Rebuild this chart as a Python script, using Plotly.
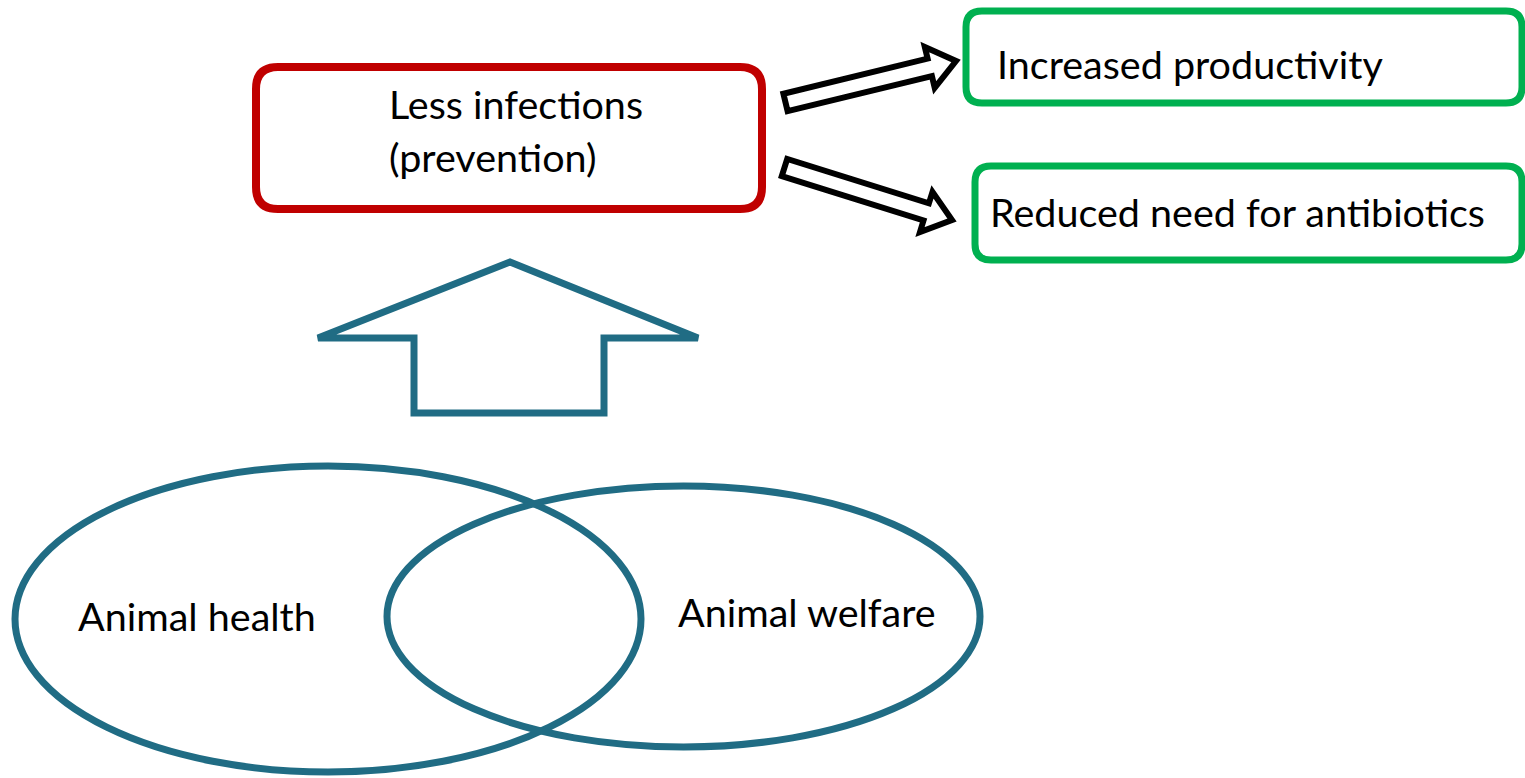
import math
import plotly.graph_objects as go

# ---- content ----
box_labels = ["Less infections", "(prevention)", "Increased productivity", "Reduced need for antibiotics"]
circle_labels = ["Animal health", "Animal welfare"]

W, H = 1525, 778
TEAL = "#206C84"
RED = "#C00000"
GREEN = "#00B050"
FONT = "Lato"
FS = 39.5

fig = go.Figure()
fig.add_trace(go.Scatter(x=[0, W], y=[0, H], mode="markers", marker=dict(opacity=0), hoverinfo="skip", showlegend=False))

def rrect(x0, y0, x1, y1, r):
    return (f"M {x0+r},{y0} L {x1-r},{y0} Q {x1},{y0} {x1},{y0+r} L {x1},{y1-r} "
            f"Q {x1},{y1} {x1-r},{y1} L {x0+r},{y1} Q {x0},{y1} {x0},{y1-r} "
            f"L {x0},{y0+r} Q {x0},{y0} {x0+r},{y0} Z")

def arrow(tail, tip, shaft_w, head_w, head_l):
    dx, dy = tip[0]-tail[0], tip[1]-tail[1]
    L = math.hypot(dx, dy)
    ux, uy = dx/L, dy/L
    nx, ny = -uy, ux
    bx, by = tip[0]-ux*head_l, tip[1]-uy*head_l
    pts = [
        (tail[0]+nx*shaft_w/2, tail[1]+ny*shaft_w/2),
        (bx+nx*shaft_w/2, by+ny*shaft_w/2),
        (bx+nx*head_w/2, by+ny*head_w/2),
        tip,
        (bx-nx*head_w/2, by-ny*head_w/2),
        (bx-nx*shaft_w/2, by-ny*shaft_w/2),
        (tail[0]-nx*shaft_w/2, tail[1]-ny*shaft_w/2),
    ]
    return "M " + " L ".join(f"{x:.1f},{y:.1f}" for x, y in pts) + " Z"

shapes = []
# ellipses
shapes.append(dict(type="circle", x0=15, x1=641, y0=466, y1=772, line=dict(color=TEAL, width=7)))
shapes.append(dict(type="circle", x0=387, x1=980, y0=486, y1=747, line=dict(color=TEAL, width=7)))
# up arrow
up = [(510, 262), (698, 338), (604, 338), (604, 413), (414, 413), (414, 338), (318, 338)]
shapes.append(dict(type="path", path="M " + " L ".join(f"{x},{y}" for x, y in up) + " Z",
                   line=dict(color=TEAL, width=7)))
# boxes
shapes.append(dict(type="path", path=rrect(256, 67, 762, 209, 22), line=dict(color=RED, width=8)))
shapes.append(dict(type="path", path=rrect(966, 11, 1522, 103, 16), line=dict(color=GREEN, width=7)))
shapes.append(dict(type="path", path=rrect(975, 166, 1522, 260, 16), line=dict(color=GREEN, width=7)))
# black arrows
shapes.append(dict(type="path", path=arrow((785.5, 102.5), (956, 61), 18, 42, 27), line=dict(color="black", width=6)))
shapes.append(dict(type="path", path=arrow((784.5, 167.5), (952, 220), 18, 42, 27), line=dict(color="black", width=6)))

fig.update_layout(shapes=shapes)

def txt(x, y, s, anchor="left"):
    fig.add_annotation(x=x, y=y, text=s, showarrow=False, xanchor=anchor, yanchor="middle",
                       align="left", font=dict(family=FONT, size=FS, color="black"))

txt(387, 103, box_labels[0])
txt(387, 156, box_labels[1])
txt(995, 63, box_labels[2])
txt(988, 211, box_labels[3])
txt(76, 615, circle_labels[0])
txt(676, 611, circle_labels[1])

fig.update_layout(
    width=W, height=H, margin=dict(l=0, r=0, t=0, b=0),
    paper_bgcolor="white", plot_bgcolor="white",
    xaxis=dict(range=[0, W], visible=False, fixedrange=True),
    yaxis=dict(range=[H, 0], visible=False, fixedrange=True),
    showlegend=False,
)
fig.write_html("out.html", config={"displayModeBar": False},
               post_script="document.body.style.margin='0';document.body.style.overflow='hidden';")
